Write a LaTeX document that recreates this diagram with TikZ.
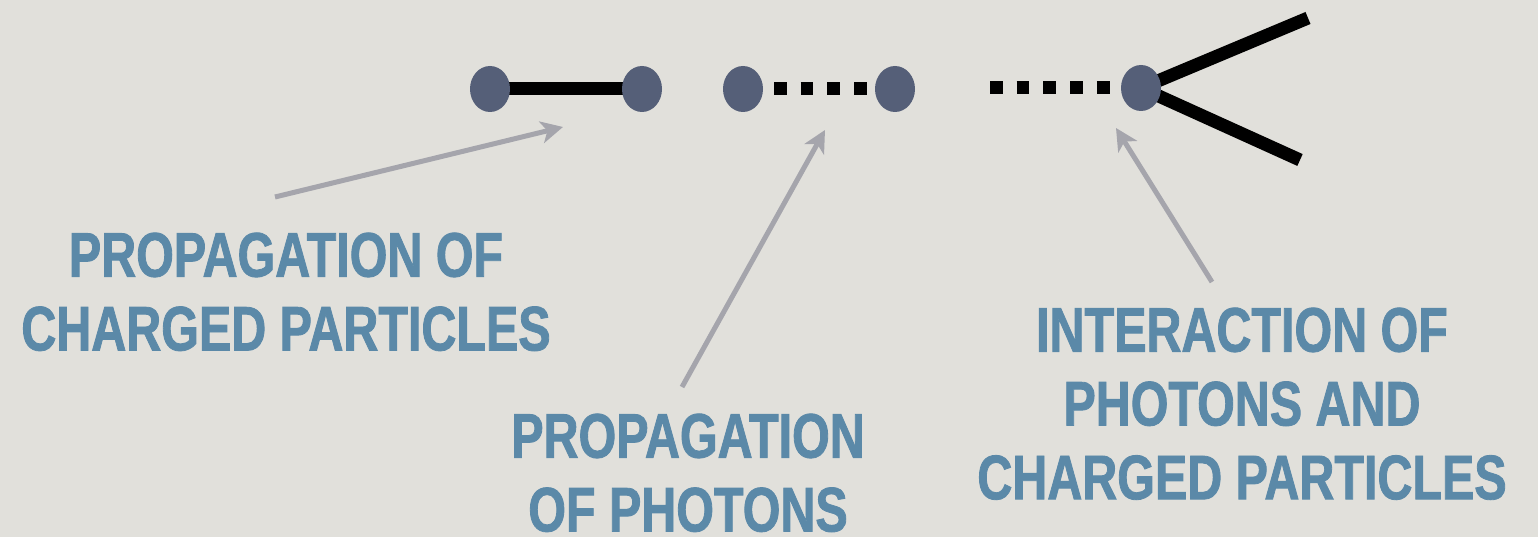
\documentclass[tikz,border=0pt]{standalone}
\usepackage{fontspec}
\newfontfamily\rotulofont{Liberation Sans}[FakeStretch=0.77,FakeBold=1.3]
\usetikzlibrary{shapes.geometric,arrows.meta,backgrounds}
\definecolor{fundo}{RGB}{225,224,219}
\definecolor{bolinha}{RGB}{85,95,120}
\definecolor{azul}{RGB}{91,137,168}
\definecolor{cinza}{RGB}{165,165,172}

\begin{document}
\begin{tikzpicture}[vertice/.style = {fill=bolinha,ellipse,minimum width=0.4cm,minimum height=0.46cm,inner sep=0pt},
		carga/.style = {line width=0.13cm,black},
		foton/.style = {line width=0.13cm,black,dash pattern=on 0.127cm off 0.14cm},
		seta/.style = {line width=0.05cm,cinza,-{Stealth[length=0.22cm,width=0.22cm,inset=0.06cm]}},
		rotulo/.style = {azul,align=center,anchor=north,inner sep=0pt,font=\rotulofont\bfseries\fontsize{17.9}{21}\selectfont}]
		\useasboundingbox (0,0) rectangle (15.38,5.37);
		\node[vertice] (A) at (4.90,4.48) {};
		\node[vertice] (B) at (6.42,4.48) {};
		\node[vertice] (C) at (7.43,4.48) {};
		\node[vertice] (D) at (8.95,4.48) {};
		\node[vertice] (E) at (11.41,4.49) {};
		\coordinate (P) at (9.90,4.49);
		\coordinate (S) at (13.08,5.19);
		\coordinate (T) at (13.00,3.77);
		
		\begin{scope}[on background layer]
			\fill[fundo] (0,0) rectangle (15.38,5.37);
			\draw[carga] (A.center) -- (B.center);
			\draw[foton, dash phase=0.224cm] (C.center) -- (D.center);
			\draw[foton] (P) -- (E.center);
			\draw[carga] (E.center) -- (S);
			\draw[carga] (E.center) -- (T);
		\end{scope}
		
		\node[rotulo] (L1) at (2.86,3.05) {PROPAGATION OF\\CHARGED PARTICLES};
		\node[rotulo] (L2) at (6.88,1.24) {PROPAGATION\\OF PHOTONS};
		\node[rotulo] (L3) at (12.42,2.30) {INTERACTION OF\\PHOTONS AND\\CHARGED PARTICLES};
		
		\coordinate (a1) at (2.75,3.40);
		\coordinate (b1) at (5.63,4.10);
		\coordinate (a2) at (6.82,1.50);
		\coordinate (b2) at (8.25,4.07);
		\coordinate (a3) at (12.12,2.55);
		\coordinate (b3) at (11.16,4.09);
		\draw[seta] (a1) -- (b1);
		\draw[seta] (a2) -- (b2);
		\draw[seta] (a3) -- (b3);
	\end{tikzpicture}
\end{document}
